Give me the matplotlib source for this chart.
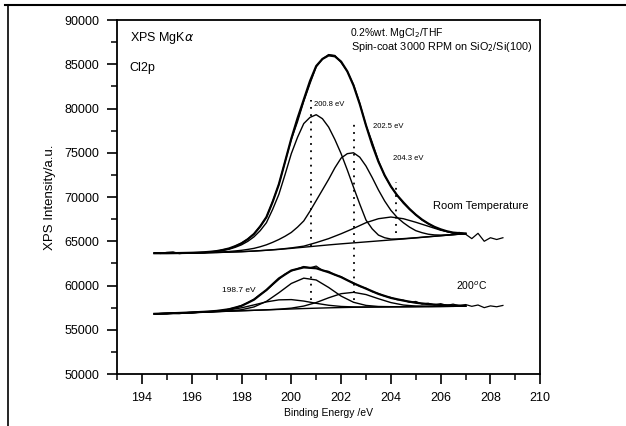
import numpy as np
import matplotlib
matplotlib.use("Agg")
import matplotlib.pyplot as plt
from matplotlib.lines import Line2D

plt.rcParams['font.family'] = ['Liberation Sans', 'DejaVu Sans']

# ---- Room temperature spectrum ----
fit_x = np.arange(194.5, 207.01, 0.5)    # broad curves
fine_x = np.arange(194.5, 207.01, 0.25)  # sharper curves

rt_base = [63650, 63650, 63660, 63680, 63700, 63730, 63770, 63820, 63890, 63980,
           64080, 64200, 64330, 64460, 64590, 64710, 64820, 64930, 65040, 65150,
           65260, 65380, 65500, 65620, 65740, 65850]
rt_p3 = [63650, 63650, 63660, 63680, 63700, 63730, 63780, 63830, 63900, 63990,
         64100, 64250, 64450, 64850, 65300, 65850, 66450, 67100, 67550, 67740,
         67550, 67150, 66700, 66250, 65950, 65860]
rt_p1 = [63650, 63650, 63650, 63655, 63670, 63685, 63700, 63725, 63750, 63800,
         63860, 63960, 64100, 64320, 64600, 64990, 65500, 66200, 67100, 68600,
         70300, 72550, 74900, 76750, 78300, 79000, 79300, 78850, 77900, 76500,
         74900, 73050, 71100, 69200, 67400, 66400, 65700, 65400, 65250, 65260,
         65300, 65350, 65400, 65460, 65520, 65575, 65630, 65690, 65750, 65805,
         65860]
rt_p2 = [63650, 63650, 63650, 63655, 63660, 63670, 63680, 63695, 63710, 63735,
         63760, 63800, 63850, 63910, 63980, 64080, 64200, 64380, 64600, 64880,
         65200, 65570, 66000, 66600, 67300, 68400, 69600, 70800, 72000, 73300,
         74400, 74900, 75000, 74500, 73500, 72200, 70800, 69550, 68500, 67700,
         67100, 66600, 66200, 65970, 65800, 65720, 65700, 65720, 65760, 65810,
         65860]
rt_env = [63650, 63650, 63650, 63660, 63670, 63685, 63700, 63725, 63760, 63815,
          63890, 64020, 64190, 64450, 64770, 65230, 65820, 66680, 67730, 69450,
          71440, 74000, 76600, 78900, 81000, 83100, 84800, 85600, 86000, 85900,
          85300, 84200, 82600, 80500, 78100, 75900, 74000, 72450, 71200, 70200,
          69400, 68650, 68000, 67450, 67000, 66630, 66350, 66130, 65980, 65920,
          65880]

# raw data, 0.25 eV step
raw_x = np.arange(194.5, 208.51, 0.25)
rt_raw = [63700, 63620, 63750, 63800, 63600, 63680, 63650, 63720, 63700, 63820,
          63850, 64050, 64150, 64450, 64800, 65250, 65850, 66700, 67700, 69500,
          71400, 74000, 76500, 78500, 80800, 82800, 84700, 85600, 86100, 86000,
          85200, 84200, 82700, 80600, 78100, 76200, 74100, 72400, 71200, 70200,
          69300, 68600, 68000, 67400, 67000, 66600, 66300, 66100, 65900, 66000,
          65800, 65300, 65900, 65000, 65400, 65200, 65400]

# ---- 200 C spectrum (0.5 eV grid) ----
hot_base = [56800, 56850, 56900, 56950, 57000, 57050, 57100, 57150, 57200, 57250,
            57300, 57350, 57400, 57440, 57480, 57510, 57540, 57560, 57580, 57600,
            57610, 57620, 57630, 57640, 57650, 57660]
hot_p1 = [56800, 56850, 56900, 56955, 57015, 57105, 57250, 57480, 57810, 58150,
          58380, 58410, 58245, 57990, 57770, 57635, 57585, 57570, 57580, 57600,
          57610, 57620, 57630, 57640, 57650, 57660]
hot_p2 = [56800, 56850, 56900, 56950, 57001, 57055, 57128, 57267, 57581, 58209,
          59184, 60232, 60833, 60625, 59781, 58805, 58106, 57754, 57632, 57611,
          57610, 57620, 57630, 57640, 57650, 57660]
hot_p3 = [56800, 56850, 56900, 56950, 57000, 57050, 57100, 57150, 57200, 57255,
          57325, 57445, 57680, 58078, 58614, 59079, 59232, 58980, 58508, 58073,
          57797, 57678, 57644, 57640, 57650, 57660]
hot_env = [56800, 56850, 56900, 56960, 57030, 57130, 57320, 57700, 58400, 59500,
           60800, 61700, 62050, 61950, 61500, 60950, 60250, 59650, 59050, 58600,
           58300, 58050, 57900, 57800, 57750, 57720]
hot_raw = [56750, 56800, 56780, 56850, 56820, 56900, 56880, 56950, 57000, 57020,
           57100, 57150, 57350, 57500, 57750, 58050, 58450, 59000, 59450, 60100,
           60700, 61300, 61650, 61900, 62150, 62000, 62200, 61700, 61600, 61200,
           61000, 60600, 60300, 59900, 59700, 59300, 59100, 58800, 58650, 58400,
           58350, 58100, 58200, 57900, 58000, 57800, 57950, 57750, 57900, 57700,
           57850, 57650, 57800, 57500, 57700, 57600, 57750]

# peak markers (position, bottom, top)
markers = [(200.8, 64500, 81000), (200.8, 58400, 61200),
           (202.5, 58400, 78400), (204.2, 65900, 71700)]

fig = plt.figure(figsize=(6.26, 4.26), dpi=100)
ax = fig.add_axes([0.187, 0.122, 0.676, 0.831])

for y in [rt_base, rt_p3, hot_base, hot_p1, hot_p2, hot_p3]:
    ax.plot(fit_x, y, color='black', lw=1.0)
for y in [rt_p1, rt_p2]:
    ax.plot(fine_x, y, color='black', lw=1.0)
ax.plot(fine_x, rt_env, color='black', lw=1.6)
ax.plot(fit_x, hot_env, color='black', lw=1.6)
ax.plot(raw_x, rt_raw, color='black', lw=0.9)
ax.plot(raw_x, hot_raw, color='black', lw=0.9)

for xm, y0, y1 in markers:
    ax.vlines(xm, y0, y1, colors='black', linestyles=(0, (1, 3)), lw=1.3)

ax.set_xlim(193, 210)
ax.set_ylim(50000, 90000)
ax.set_xticks(np.arange(194, 211, 2))
ax.set_xticks(np.arange(193, 211, 1), minor=True)
ax.set_yticks(np.arange(50000, 90001, 5000))
ax.set_yticks(np.arange(50000, 90001, 2500), minor=True)
ax.tick_params(which='major', length=7, width=1.2, labelsize=9, pad=6)
ax.tick_params(which='minor', length=4, width=1.1)
for s in ax.spines.values():
    s.set_linewidth(1.3)

ax.set_xlabel('Binding Energy /eV', fontsize=7.5, labelpad=3)
ax.set_ylabel('XPS Intensity/a.u.', fontsize=9.5, labelpad=6)

ax.text(193.5, 87600, r'XPS MgK$\alpha$', fontsize=9)
ax.text(193.5, 84200, 'Cl2p', fontsize=9)
ax.text(202.35, 88500, '0.2%wt. MgCl$_2$/THF', fontsize=7.5, va='center')
ax.text(202.4, 87000, 'Spin-coat 3000 RPM on SiO$_2$/Si(100)', fontsize=7.8, va='center')
ax.text(200.9, 80300, '200.8 eV', fontsize=5.5)
ax.text(203.3, 77800, '202.5 eV', fontsize=5.5)
ax.text(204.1, 74200, '204.3 eV', fontsize=5.5)
ax.text(205.7, 68700, 'Room Temperature', fontsize=8)
ax.text(197.2, 59300, '198.7 eV', fontsize=6)
ax.text(206.6, 59500, '200$^o$C', fontsize=7.5)

# scanned page border
fig.add_artist(Line2D([0.008, 1.0], [0.988, 0.988], color='black', lw=1.5))
fig.add_artist(Line2D([0.013, 0.013], [0.0, 0.988], color='black', lw=1.2))

fig.savefig('out.png', dpi=100)
